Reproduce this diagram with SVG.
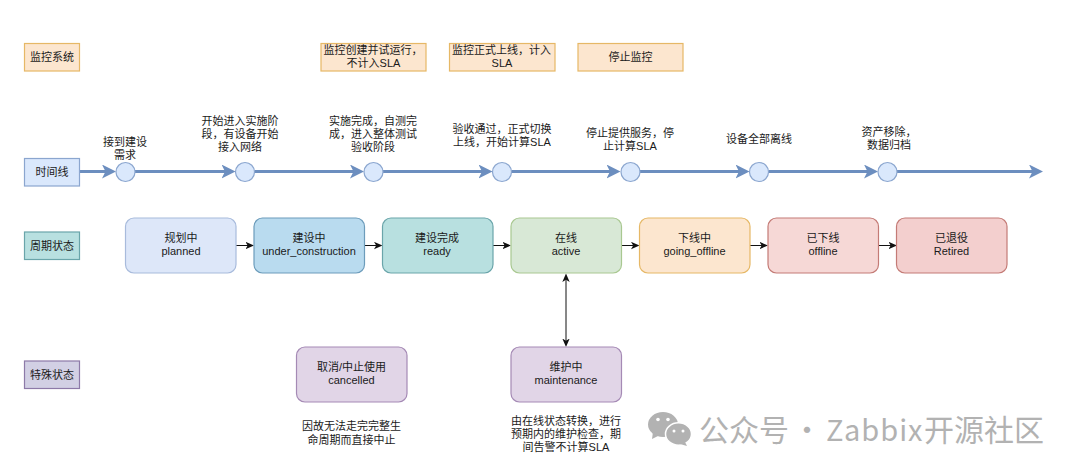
<svg xmlns="http://www.w3.org/2000/svg" width="1080" height="474" viewBox="0 0 1080 474">
<style>
text{font-family:"Liberation Sans","Noto Sans CJK SC",sans-serif;font-size:11px;fill:#1a1a1a;text-anchor:middle}
.o{fill:#fce6cf;stroke:#e6b866;stroke-width:1.2}
.b{fill:#dae8fc;stroke:#8ba6cf;stroke-width:1.2}
.t{fill:#b8e0e0;stroke:#6aa5aa;stroke-width:1.2}
.s{fill:#d2d0e4;stroke:#8d7aa8;stroke-width:1.2}
.tl{stroke:#6c8ebf;stroke-width:3;fill:none}
.c{stroke:#111;stroke-width:1;fill:none}
.wm{font-family:"Noto Sans CJK SC","Noto Sans",sans-serif;font-size:30px;fill:#b2b2b2;text-anchor:start}
.wl{font-size:29px;letter-spacing:1px}
</style>
<defs>
<marker id="big" markerUnits="userSpaceOnUse" markerWidth="16" markerHeight="16" refX="4" refY="7" orient="auto"><path d="M0 0L14 7L0 14L3.500 7Z" fill="#6c8ebf"/></marker>
<marker id="sm" markerUnits="userSpaceOnUse" markerWidth="10" markerHeight="10" refX="2.500" refY="4" orient="auto-start-reverse"><path d="M0 0.300L8.500 4L0 7.700L2.200 4Z" fill="#111"/></marker>
</defs>
<g id="connectors">
<path class="tl" d="M80 171.500H106" marker-end="url(#big)"/>
<path class="tl" d="M135 171.500H225.500" marker-end="url(#big)"/>
<path class="tl" d="M254.500 171.500H354" marker-end="url(#big)"/>
<path class="tl" d="M383 171.500H482.500" marker-end="url(#big)"/>
<path class="tl" d="M511.500 171.500H610.500" marker-end="url(#big)"/>
<path class="tl" d="M639.500 171.500H739.500" marker-end="url(#big)"/>
<path class="tl" d="M768.500 171.500H868" marker-end="url(#big)"/>
<path class="tl" d="M897 171.500H1033" marker-end="url(#big)"/>
<path class="c" d="M236 245.500H248" marker-end="url(#sm)"/>
<path class="c" d="M365 245.500H376.500" marker-end="url(#sm)"/>
<path class="c" d="M493 245.500H505" marker-end="url(#sm)"/>
<path class="c" d="M621.500 245.500H633.500" marker-end="url(#sm)"/>
<path class="c" d="M750 245.500H762" marker-end="url(#sm)"/>
<path class="c" d="M879 245.500H891" marker-end="url(#sm)"/>
<path class="c" d="M566 279.500V341" marker-start="url(#sm)" marker-end="url(#sm)"/>
</g>
<g id="lane-monitor"><rect class="o" x="24.500" y="43.500" width="55" height="27.500"/><text x="52" y="61">监控系统</text></g>
<g id="lane-timeline"><rect class="b" x="24.500" y="158.500" width="55" height="27.500"/><text x="52" y="176">时间线</text></g>
<g id="lane-cycle"><rect class="t" x="24.500" y="232" width="55" height="27.500"/><text x="52" y="249.500">周期状态</text></g>
<g id="lane-special"><rect class="s" x="24.500" y="361" width="55" height="27.500"/><text x="52" y="378.500">特殊状态</text></g>
<g id="mon-1"><rect class="o" x="321" y="43.500" width="105" height="27.500"/><text x="373" y="54">监控创建并试运行&#65292;</text><text x="373.500" y="67">不计入SLA</text></g>
<g id="mon-2"><rect class="o" x="449.500" y="43.500" width="105.500" height="27.500"/><text x="501.500" y="54">监控正式上线&#65292;计入</text><text x="502" y="67">SLA</text></g>
<g id="mon-3"><rect class="o" x="578" y="43.500" width="105" height="27.500"/><text x="630.500" y="61">停止监控</text></g>
<g id="t1"><circle class="b" cx="125.500" cy="172" r="9.500"/><text x="125" y="146">接到建设</text><text x="125" y="159">需求</text></g>
<g id="t2"><circle class="b" cx="245" cy="172" r="9.500"/><text x="240" y="125">开始进入实施阶</text><text x="240" y="138">段&#65292;有设备开始</text><text x="240" y="151">接入网络</text></g>
<g id="t3"><circle class="b" cx="373.500" cy="172" r="9.500"/><text x="373" y="125">实施完成&#65292;自测完</text><text x="373" y="138">成&#65292;进入整体测试</text><text x="373" y="151">验收阶段</text></g>
<g id="t4"><circle class="b" cx="502" cy="172" r="9.500"/><text x="502" y="133">验收通过&#65292;正式切换</text><text x="502" y="146">上线&#65292;开始计算SLA</text></g>
<g id="t5"><circle class="b" cx="630.500" cy="172" r="9.500"/><text x="630" y="137">停止提供服务&#65292;停</text><text x="630" y="150">止计算SLA</text></g>
<g id="t6"><circle class="b" cx="759" cy="172" r="9.500"/><text x="759" y="143">设备全部离线</text></g>
<g id="t7"><circle class="b" cx="887.500" cy="172" r="9.500"/><text x="889" y="136">资产移除&#65292;</text><text x="889" y="149">数据归档</text></g>
<g id="planned"><rect x="125.500" y="218" width="110.500" height="55" rx="8.500" fill="#dde7f9" stroke="#a8bbdc" stroke-width="1.200"/><text x="181" y="242">规划中</text><text x="181" y="255">planned</text></g>
<g id="under_construction"><rect x="254" y="218" width="110.500" height="55" rx="8.500" fill="#b9dbef" stroke="#6c9cbb" stroke-width="1.200"/><text x="309" y="242">建设中</text><text x="309" y="255">under_construction</text></g>
<g id="ready"><rect x="382.500" y="218" width="110.500" height="55" rx="8.500" fill="#b8e0e0" stroke="#6aa5aa" stroke-width="1.200"/><text x="437" y="242">建设完成</text><text x="437" y="255">ready</text></g>
<g id="active"><rect x="511" y="218" width="110.500" height="55" rx="8.500" fill="#d8e8d6" stroke="#a9c891" stroke-width="1.200"/><text x="566" y="242">在线</text><text x="566" y="255">active</text></g>
<g id="going_offline"><rect x="639.500" y="218" width="110.500" height="55" rx="8.500" fill="#fce6cf" stroke="#e6b866" stroke-width="1.200"/><text x="694.500" y="242">下线中</text><text x="694.500" y="255">going_offline</text></g>
<g id="offline"><rect x="768" y="218" width="110.500" height="55" rx="8.500" fill="#f6d8d6" stroke="#c47b76" stroke-width="1.200"/><text x="823" y="242">已下线</text><text x="823" y="255">offline</text></g>
<g id="retired"><rect x="896.500" y="218" width="110.500" height="55" rx="8.500" fill="#f3cfce" stroke="#c47b76" stroke-width="1.200"/><text x="951.500" y="242">已退役</text><text x="951.500" y="255">Retired</text></g>
<g id="cancelled"><rect x="296.500" y="347" width="110.500" height="55" rx="8.500" fill="#e1d5e7" stroke="#a58ab5" stroke-width="1.200"/><text x="351.500" y="371">取消/中止使用</text><text x="351.500" y="384">cancelled</text></g>
<text x="351.500" y="430">因故无法走完完整生</text><text x="351.500" y="444">命周期而直接中止</text>
<g id="maintenance"><rect x="511" y="347" width="110.500" height="55" rx="8.500" fill="#e1d5e7" stroke="#a58ab5" stroke-width="1.200"/><text x="566" y="371">维护中</text><text x="566" y="384">maintenance</text></g>
<text x="566" y="425">由在线状态转换&#65292;进行</text><text x="566" y="438">预期内的维护检查&#65292;期</text><text x="566" y="451">间告警不计算SLA</text>
<g id="watermark">
<g fill="#b2b2b2"><ellipse cx="663" cy="424.500" rx="15" ry="12.500"/><path d="M653 432l-1 7 8-4z"/><ellipse cx="678.500" cy="434" rx="13" ry="11.200" stroke="#fff" stroke-width="1.500"/><path d="M685 442l2 4-7-2z"/></g>
<g fill="#fff"><circle cx="658" cy="419.500" r="1.800"/><circle cx="668" cy="419.500" r="1.800"/><circle cx="674" cy="431" r="1.500"/><circle cx="683" cy="431" r="1.500"/></g>
<text class="wm" x="699" y="441">公众号</text><text class="wm" x="792" y="441">·</text><text class="wm wl" x="826" y="441">Zabbix</text><text class="wm" x="924" y="441">开源社区</text>
</g>
</svg>
